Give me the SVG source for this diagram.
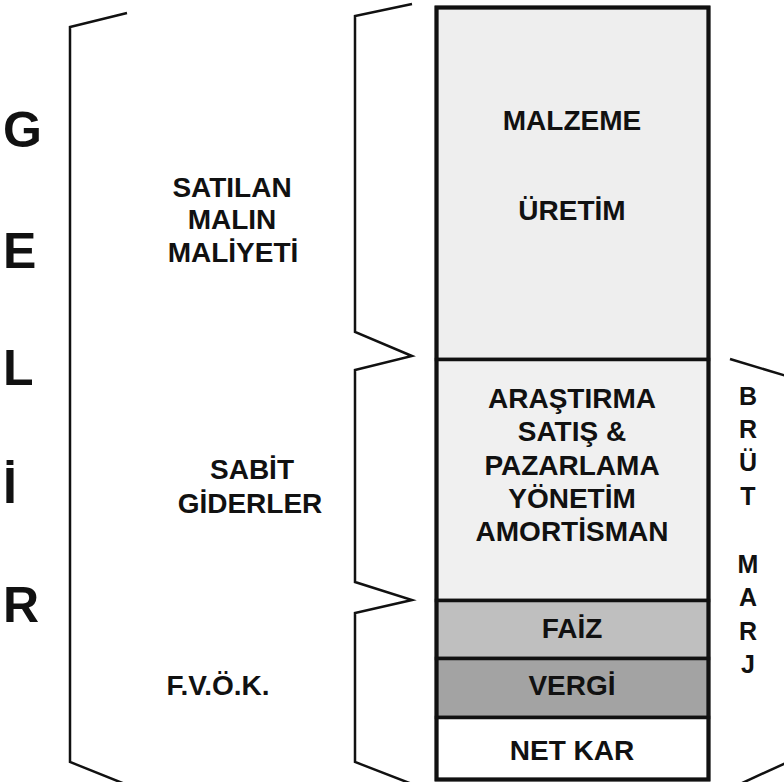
<svg xmlns="http://www.w3.org/2000/svg" width="784" height="782" viewBox="0 0 784 782">
  <style>
    .t { font-family: "Liberation Sans", Arial, sans-serif; font-weight: bold; fill: #111; }
    .big { font-size: 50px; }
    .lbl { font-size: 28px; text-anchor: middle; }
    .vert { font-size: 25px; text-anchor: middle; }
    .brace { fill: none; stroke: #111; stroke-width: 2.5; stroke-linejoin: miter; }
    .blk { stroke: #111; stroke-width: 3.5; }
  </style>
  <rect width="784" height="782" fill="#ffffff"/>

  <!-- Vertical GELİR label -->
  <g id="gelir">
    <text class="t big" x="3" y="147">G</text>
    <text class="t big" x="3" y="268">E</text>
    <text class="t big" x="3" y="385">L</text>
    <text class="t big" x="3" y="503">İ</text>
    <text class="t big" x="3" y="622">R</text>
  </g>

  <!-- Braces -->
  <g id="connectors">
    <path class="brace" d="M127,13 L70,27 L70,762 L125,784"/>
    <path class="brace" d="M412,4 L355,16 L355,332 L412,356 L355,370 L355,582 L412,600 L355,613 L355,762 L412,784"/>
    <path class="brace" d="M730,359 L790,377"/>
    <path class="brace" d="M740,784 L790,761"/>
  </g>

  <!-- Side labels -->
  <g id="smm">
    <text class="t lbl" x="232" y="197">SATILAN</text>
    <text class="t lbl" x="232" y="229">MALIN</text>
    <text class="t lbl" x="233" y="262">MALİYETİ</text>
  </g>
  <g id="sabit">
    <text class="t lbl" x="252" y="479">SABİT</text>
    <text class="t lbl" x="250" y="513">GİDERLER</text>
  </g>
  <g id="fvok">
    <text class="t lbl" x="218" y="695">F.V.Ö.K.</text>
  </g>

  <!-- Stacked column -->
  <g id="col-maliyet">
    <rect class="blk" x="436.5" y="7.5" width="272" height="352" fill="#eeeeee"/>
    <text class="t lbl" x="572" y="130">MALZEME</text>
    <text class="t lbl" x="572" y="220">ÜRETİM</text>
  </g>
  <g id="col-sabit">
    <rect class="blk" x="436.5" y="359.5" width="272" height="241" fill="#f0f0f0"/>
    <text class="t lbl" x="572" y="408">ARAŞTIRMA</text>
    <text class="t lbl" x="572" y="441">SATIŞ &amp;</text>
    <text class="t lbl" x="572" y="475">PAZARLAMA</text>
    <text class="t lbl" x="572" y="508">YÖNETİM</text>
    <text class="t lbl" x="572" y="541">AMORTİSMAN</text>
  </g>
  <g id="col-faiz">
    <rect class="blk" x="436.5" y="600.5" width="272" height="58" fill="#bfbfbf"/>
    <text class="t lbl" x="572" y="638">FAİZ</text>
  </g>
  <g id="col-vergi">
    <rect class="blk" x="436.5" y="658.5" width="272" height="59" fill="#a3a3a3"/>
    <text class="t lbl" x="572" y="695">VERGİ</text>
  </g>
  <g id="col-netkar">
    <rect class="blk" x="436.5" y="717.5" width="272" height="62" fill="#ffffff"/>
    <text class="t lbl" x="572" y="760">NET KAR</text>
  </g>
  <rect x="436.5" y="7.5" width="272" height="772" fill="none" stroke="#111" stroke-width="4"/>

  <!-- BRÜT MARJ -->
  <g id="brut-marj">
    <text class="t vert" x="748" y="405">B</text>
    <text class="t vert" x="748" y="438">R</text>
    <text class="t vert" x="748" y="471">Ü</text>
    <text class="t vert" x="748" y="505">T</text>
    <text class="t vert" x="748" y="573">M</text>
    <text class="t vert" x="748" y="606">A</text>
    <text class="t vert" x="748" y="640">R</text>
    <text class="t vert" x="748" y="673">J</text>
  </g>
</svg>
